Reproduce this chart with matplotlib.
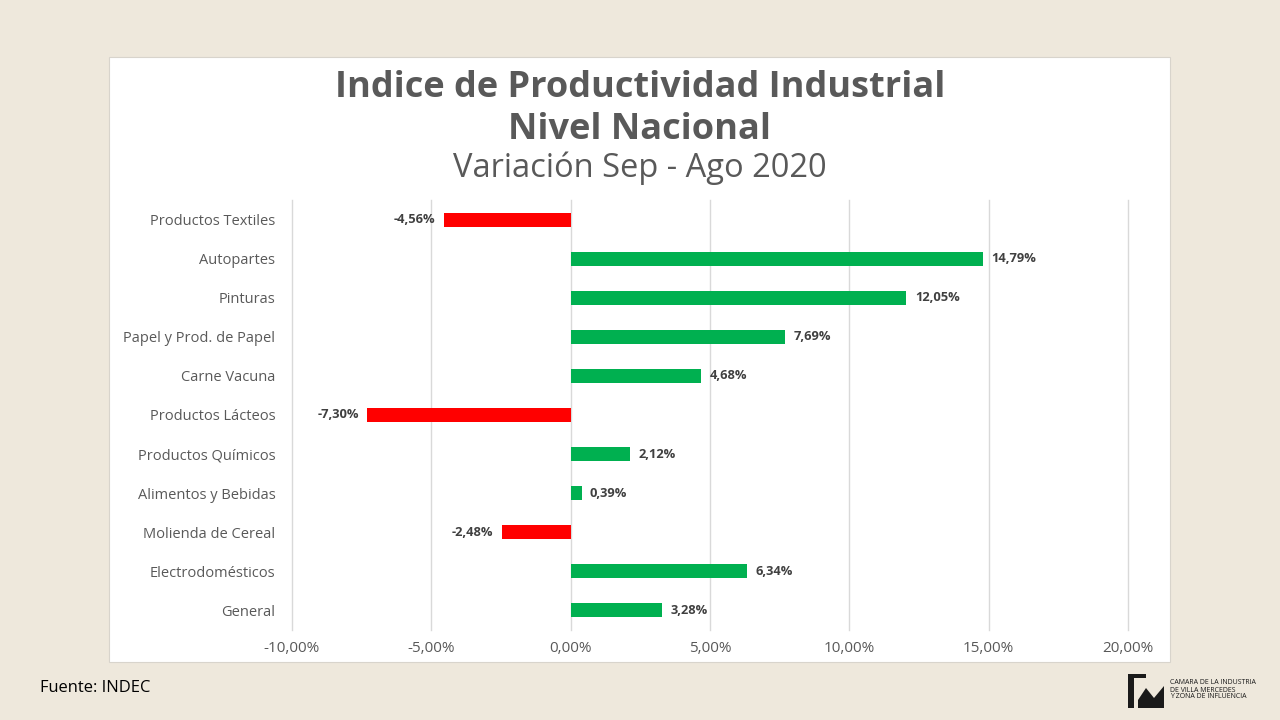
import matplotlib.pyplot as plt
import matplotlib.patches as mpatches
from matplotlib.ticker import FuncFormatter

categories = ["Productos Textiles", "Autopartes", "Pinturas", "Papel y Prod. de Papel",
              "Carne Vacuna", "Productos Lácteos", "Productos Químicos",
              "Alimentos y Bebidas", "Molienda de Cereal", "Electrodomésticos", "General"]
values = [-4.56, 14.79, 12.05, 7.69, 4.68, -7.30, 2.12, 0.39, -2.48, 6.34, 3.28]
xticks = [-10, -5, 0, 5, 10, 15, 20]

title1 = "Indice de Productividad Industrial"
title2 = "Nivel Nacional"
subtitle = "Variación Sep - Ago 2020"

plt.rcParams['font.family'] = ['Open Sans', 'DejaVu Sans']

fig = plt.figure(figsize=(12.8, 7.2), dpi=100)
fig.patch.set_facecolor('#EEE8DC')

# white panel
panel = mpatches.Rectangle((109/1280, 1-662/720), (1170-109)/1280, (662-57)/720,
                           transform=fig.transFigure, facecolor='white',
                           edgecolor='#D8D4CC', linewidth=0.8, zorder=-5)
fig.patches.append(panel)

ax = fig.add_axes([292/1280, 1-630/720, (1128-292)/1280, 430/720])
ax.set_zorder(2)
ax.set_facecolor('white')
ypos = list(range(len(categories)))
colors = ['#00B050' if v >= 0 else '#FF0000' for v in values]
ax.barh(ypos, values, height=0.36, color=colors, zorder=3)
ax.set_xlim(-10, 20)
ax.set_ylim(len(categories) - 0.5, -0.5)
ax.set_xticks(xticks)
ax.xaxis.set_major_formatter(FuncFormatter(lambda v, p: f"{v:.2f}%".replace('.', ',')))
ax.set_yticks(ypos)
ax.set_yticklabels(categories)
ax.grid(axis='x', color='#D9D9D9', linewidth=1, zorder=0)
for gl in ax.get_xgridlines():
    gl.set_clip_on(False)
ax.set_axisbelow(True)
for s in ax.spines.values():
    s.set_visible(False)
ax.tick_params(axis='x', length=0, colors='#595959', labelsize=11, pad=8)
ax.tick_params(axis='y', length=0, colors='#595959', labelsize=10.5, pad=12)

for y, v in zip(ypos, values):
    lab = f"{v:.2f}%".replace('.', ',')
    if v >= 0:
        ax.annotate(lab, (v, y), xytext=(6, 0), textcoords='offset points',
                    ha='left', va='center', fontsize=9.3, fontweight='bold', color='#404040')
    else:
        ax.annotate(lab, (v, y), xytext=(-6, 0), textcoords='offset points',
                    ha='right', va='center', fontsize=9.3, fontweight='bold', color='#404040')

fig.text(640/1280, 1-88/720, title1, ha='center', va='center', fontsize=26,
         fontweight='bold', color='#595959')
fig.text(640/1280, 1-130/720, title2, ha='center', va='center', fontsize=26,
         fontweight='bold', color='#595959')
fig.text(640/1280, 1-168/720, subtitle, ha='center', va='center', fontsize=23.5,
         color='#595959')

fig.text(40/1280, 1-688/720, "Fuente: INDEC", ha='left', va='center', fontsize=11.9, color='black')

# logo
lx, ly = 1128/1280, 1-708/720
fig.patches.append(mpatches.Rectangle((lx, ly), 6/1280, 34/720, transform=fig.transFigure,
                                      facecolor='#1a1a1a', edgecolor='none'))
fig.patches.append(mpatches.Rectangle((lx, ly + 30/720), 18/1280, 4/720, transform=fig.transFigure,
                                      facecolor='#1a1a1a', edgecolor='none'))
fig.patches.append(mpatches.Polygon([(lx + 10/1280, ly), (lx + 36/1280, ly),
                                     (lx + 36/1280, ly + 22/720), (lx + 26/1280, ly + 10/720),
                                     (lx + 18/1280, ly + 20/720), (lx + 10/1280, ly + 8/720)],
                                    closed=True, transform=fig.transFigure,
                                    facecolor='#1a1a1a', edgecolor='none'))
fig.text(1170/1280, 1-690/720, "CAMARA DE LA INDUSTRIA\nDE VILLA MERCEDES\nY ZONA DE INFLUENCIA",
         ha='left', va='center', fontsize=5, color='#1a1a1a', linespacing=1.0)

fig.savefig('out.png', dpi=100, facecolor=fig.get_facecolor())
